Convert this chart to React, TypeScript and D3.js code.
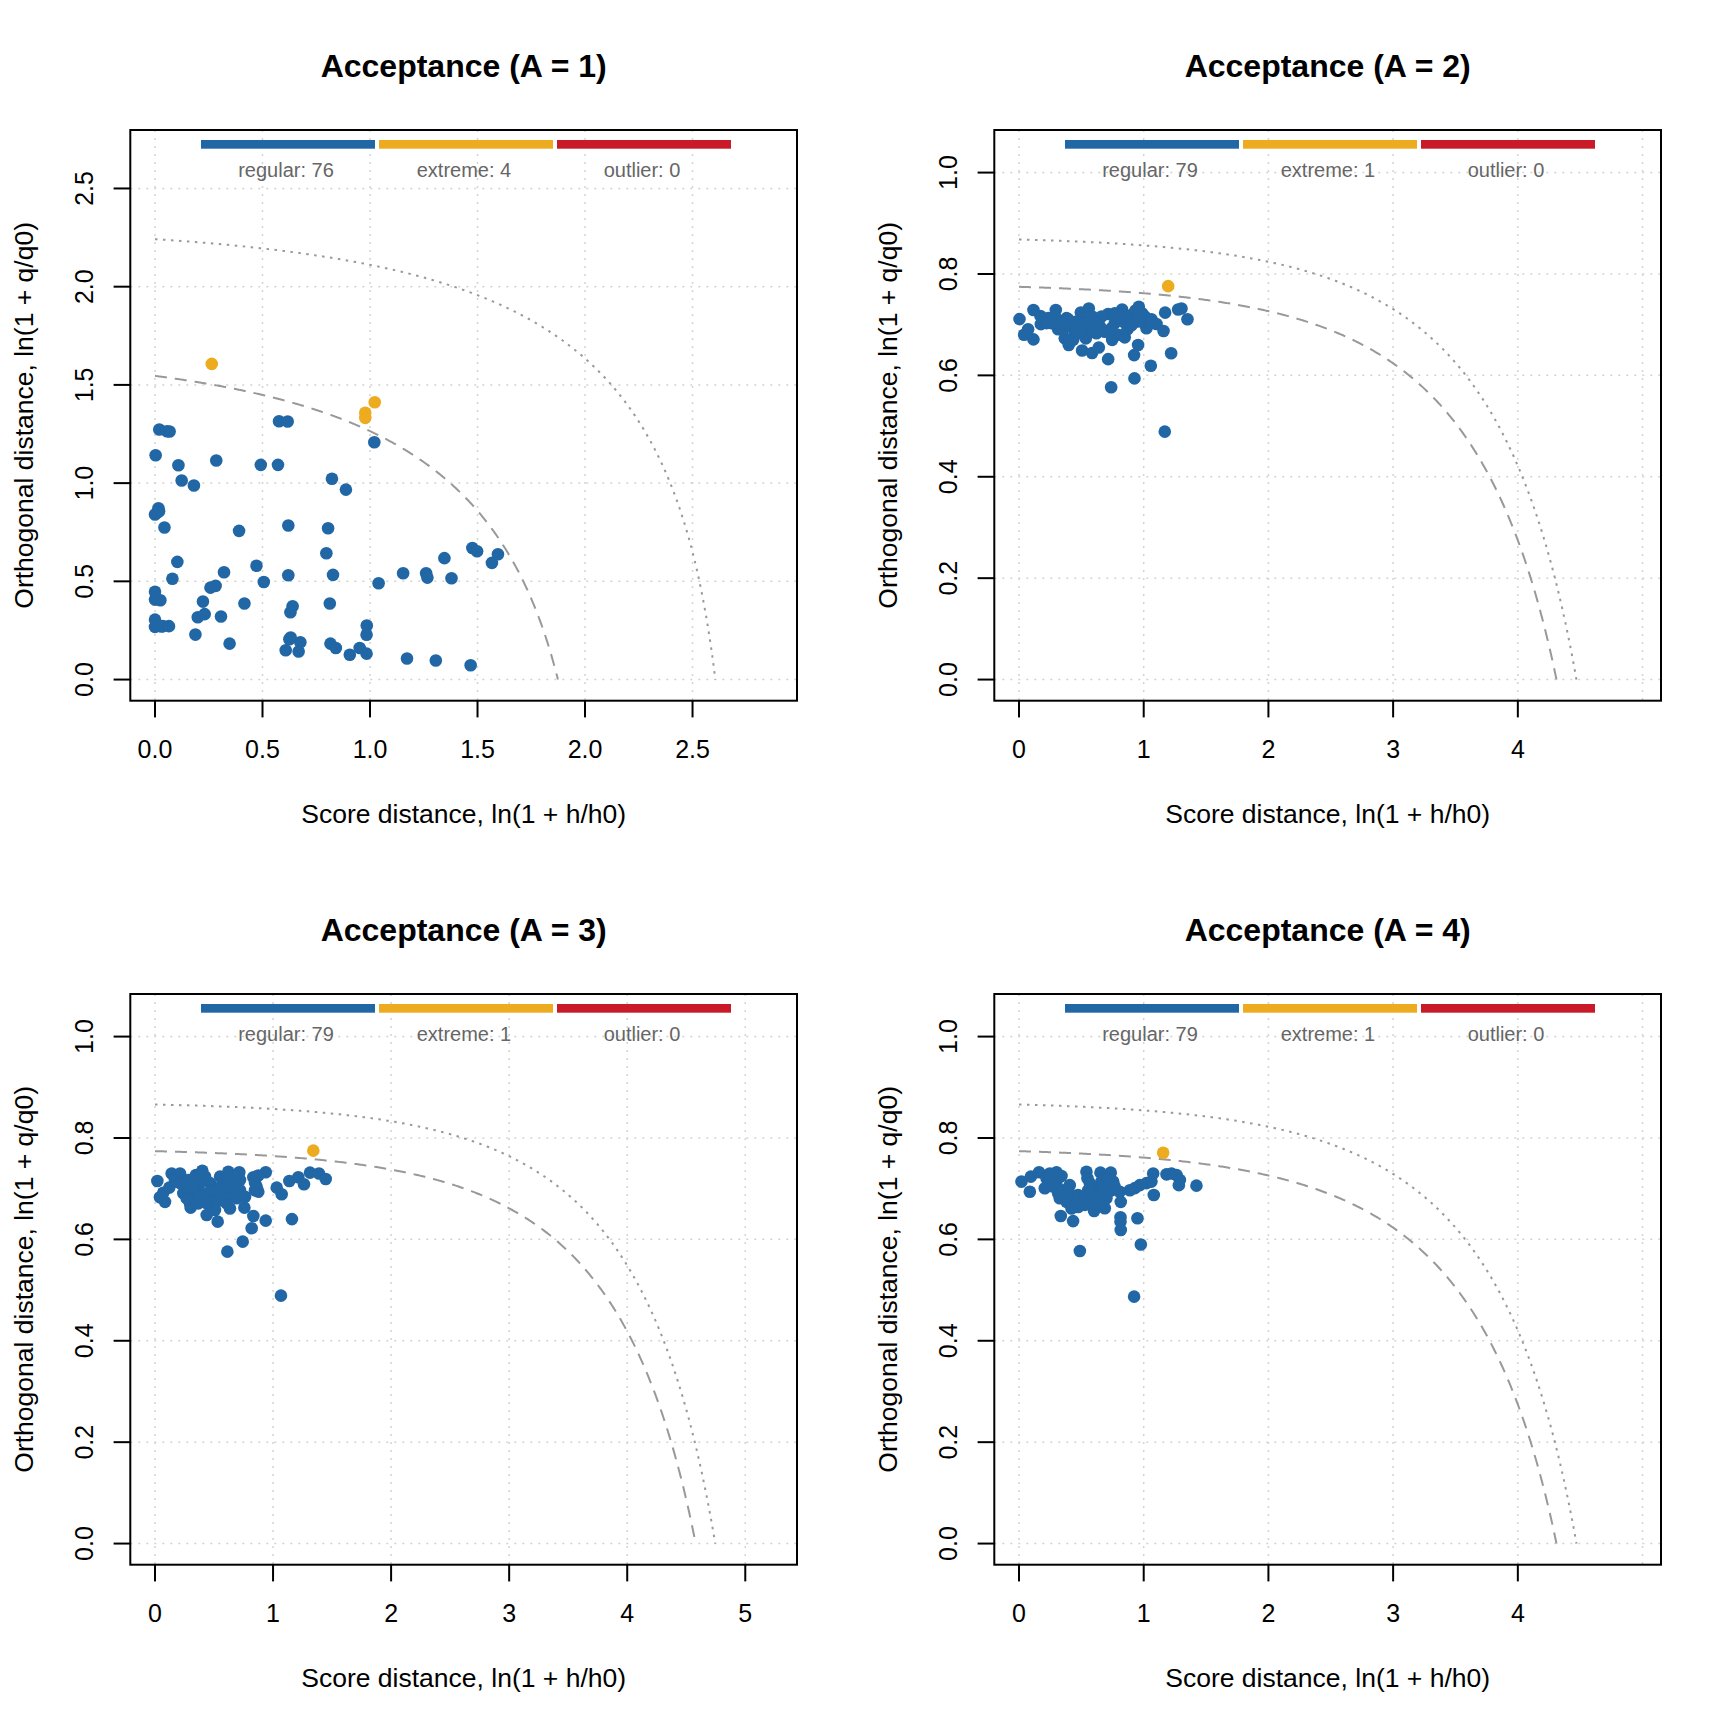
import React, { useEffect } from 'react';
import * as d3 from 'd3';

// ---------- data ----------
const titles = ['Acceptance (A = 1)', 'Acceptance (A = 2)', 'Acceptance (A = 3)', 'Acceptance (A = 4)'];
const xAxisLabel = 'Score distance, ln(1 + h/h0)';
const yAxisLabel = 'Orthogonal distance, ln(1 + q/q0)';
const legendNames = ['regular', 'extreme', 'outlier'];
const regularCounts = [76, 79, 79, 79];
const extremeCounts = [4, 1, 1, 1];
const outlierCounts = [0, 0, 0, 0];

const xMax = [2.871, 4.95, 5.229, 4.95];
const yMax = [2.69, 1.0423, 1.0423, 1.0423];
const xTicks = [
  [0, 0.5, 1, 1.5, 2, 2.5],
  [0, 1, 2, 3, 4],
  [0, 1, 2, 3, 4, 5],
  [0, 1, 2, 3, 4],
];
const xGrid = [
  [0, 0.5, 1, 1.5, 2, 2.5],
  [0, 1, 2, 3, 4, 5],
  [0, 1, 2, 3, 4, 5],
  [0, 1, 2, 3, 4, 5],
];
const yTicks = [
  [0, 0.5, 1, 1.5, 2, 2.5],
  [0, 0.2, 0.4, 0.6, 0.8, 1.0],
  [0, 0.2, 0.4, 0.6, 0.8, 1.0],
  [0, 0.2, 0.4, 0.6, 0.8, 1.0],
];
const tickDecimals = [[1, 1], [0, 1], [0, 1], [0, 1]];

// critical boundaries: intercepts on the x and y axes
const extremeX0 = [1.874, 4.31, 4.58, 4.31];
const extremeY0 = [1.546, 0.7747, 0.774, 0.774];
const outlierX0 = [2.606, 4.47, 4.746, 4.47];
const outlierY0 = [2.242, 0.868, 0.866, 0.866];

type P = [number, number];

const regular1: P[] = [
  [0.020, 1.273], [0.056, 1.264], [0.068, 1.263], [0.577, 1.315], [0.617, 1.314], [1.020, 1.208],
  [0.003, 1.142], [0.109, 1.091], [0.124, 1.013], [0.181, 0.988], [0.285, 1.115], [0.492, 1.093],
  [0.572, 1.093], [0.823, 1.022], [0.888, 0.967], [0.000, 0.840], [0.016, 0.872], [0.019, 0.857],
  [0.010, 0.850], [0.044, 0.774], [0.391, 0.757], [0.620, 0.784], [0.805, 0.770], [0.797, 0.643],
  [0.828, 0.533], [0.620, 0.531], [0.472, 0.579], [0.506, 0.497], [0.321, 0.546], [0.104, 0.599],
  [0.081, 0.513], [0.258, 0.468], [0.282, 0.477], [1.040, 0.490], [1.154, 0.541], [1.261, 0.541],
  [1.267, 0.519], [1.346, 0.618], [1.379, 0.516], [1.476, 0.670], [1.498, 0.653], [1.567, 0.594],
  [1.595, 0.638], [0.000, 0.447], [0.000, 0.407], [0.025, 0.404], [0.223, 0.397], [0.416, 0.387],
  [0.813, 0.387], [0.640, 0.373], [0.630, 0.343], [0.000, 0.305], [0.000, 0.268], [0.037, 0.272],
  [0.065, 0.272], [0.030, 0.270], [0.199, 0.317], [0.231, 0.333], [0.307, 0.321], [0.188, 0.229],
  [0.347, 0.183], [0.631, 0.214], [0.676, 0.190], [0.608, 0.149], [0.668, 0.143], [0.816, 0.183],
  [0.841, 0.161], [0.906, 0.126], [0.952, 0.161], [0.984, 0.132], [0.985, 0.275], [0.984, 0.228],
  [1.172, 0.107], [1.306, 0.097], [1.468, 0.073], [0.625, 0.205],
];
const extreme1: P[] = [[0.264, 1.607], [1.022, 1.412], [0.978, 1.358], [0.978, 1.332]];

const regular2: P[] = [
  [0.004, 0.711], [0.116, 0.729], [0.172, 0.717], [0.175, 0.701], [0.073, 0.691], [0.041, 0.680],
  [0.116, 0.671], [0.234, 0.713], [0.295, 0.729], [0.314, 0.709], [0.381, 0.713], [0.314, 0.691],
  [0.421, 0.699], [0.367, 0.673], [0.399, 0.660], [0.447, 0.683], [0.496, 0.724], [0.560, 0.732],
  [0.587, 0.716], [0.501, 0.703], [0.536, 0.673], [0.568, 0.686], [0.506, 0.649], [0.586, 0.644],
  [0.640, 0.655], [0.621, 0.683], [0.715, 0.721], [0.688, 0.686], [0.747, 0.670], [0.768, 0.703],
  [0.795, 0.680], [0.715, 0.632], [0.739, 0.5765], [0.827, 0.730], [0.848, 0.675], [0.870, 0.691],
  [0.902, 0.719], [0.934, 0.728], [0.961, 0.7355], [0.987, 0.7225], [0.942, 0.706], [1.009, 0.716],
  [1.062, 0.7107], [1.022, 0.693], [1.103, 0.7014], [1.159, 0.6876], [1.172, 0.7237], [0.955, 0.660],
  [0.923, 0.640], [0.926, 0.594], [1.057, 0.619], [1.220, 0.6436], [1.169, 0.489], [1.276, 0.730],
  [1.303, 0.732], [1.351, 0.7107], [0.260, 0.703], [0.354, 0.690], [0.461, 0.706], [0.394, 0.711],
  [0.528, 0.693], [0.648, 0.697], [0.742, 0.693], [0.835, 0.706], [0.902, 0.699], [0.982, 0.706],
  [0.854, 0.716], [0.662, 0.716], [0.595, 0.699], [0.220, 0.703], [0.287, 0.716], [0.434, 0.670],
  [0.488, 0.683], [0.768, 0.7225], [1.062, 0.703], [0.810, 0.716], [0.621, 0.703], [0.548, 0.706],
  [0.341, 0.703],
];
const extreme2: P[] = [[1.196, 0.776]];

const regular3: P[] = [
  [0.020, 0.715], [0.042, 0.683], [0.085, 0.674], [0.121, 0.702], [0.141, 0.730], [0.212, 0.730],
  [0.184, 0.714], [0.254, 0.697], [0.282, 0.717], [0.347, 0.727], [0.401, 0.7355], [0.325, 0.684],
  [0.302, 0.6626], [0.367, 0.671], [0.438, 0.648], [0.531, 0.635], [0.508, 0.658], [0.466, 0.711],
  [0.409, 0.691], [0.480, 0.684], [0.551, 0.7237], [0.621, 0.7335], [0.714, 0.7323], [0.593, 0.711],
  [0.551, 0.691], [0.607, 0.671], [0.663, 0.697], [0.692, 0.681], [0.720, 0.717], [0.757, 0.6626],
  [0.833, 0.646], [0.819, 0.622], [0.743, 0.5955], [0.613, 0.5758], [0.833, 0.7225], [0.861, 0.704],
  [0.875, 0.694], [0.847, 0.712], [0.938, 0.7323], [0.938, 0.637], [1.031, 0.702], [1.073, 0.689],
  [1.067, 0.489], [1.138, 0.715], [1.160, 0.640], [1.214, 0.7225], [1.262, 0.7087], [1.313, 0.7316],
  [1.389, 0.730], [1.446, 0.719], [0.070, 0.692], [0.240, 0.711], [0.381, 0.711], [0.424, 0.724],
  [0.353, 0.697], [0.508, 0.674], [0.635, 0.7205], [0.635, 0.691], [0.720, 0.697], [0.875, 0.726],
  [0.296, 0.671], [0.438, 0.671], [0.480, 0.697], [0.565, 0.707], [0.678, 0.714], [0.706, 0.730],
  [0.169, 0.717], [0.240, 0.691], [0.325, 0.704], [0.523, 0.697], [0.607, 0.704], [0.551, 0.677],
  [0.395, 0.681], [0.381, 0.724], [0.212, 0.711], [0.635, 0.661], [0.268, 0.681], [0.763, 0.684],
  [0.847, 0.697],
];
const extreme3: P[] = [[1.341, 0.775]];

const regular4: P[] = [
  [0.020, 0.714], [0.087, 0.694], [0.095, 0.7237], [0.161, 0.7323], [0.207, 0.7008], [0.221, 0.7205],
  [0.261, 0.711], [0.301, 0.7323], [0.341, 0.725], [0.314, 0.691], [0.327, 0.681], [0.381, 0.674],
  [0.407, 0.707], [0.335, 0.646], [0.434, 0.636], [0.488, 0.577], [0.447, 0.668], [0.501, 0.671],
  [0.474, 0.6876], [0.541, 0.7335], [0.549, 0.7205], [0.594, 0.704], [0.602, 0.656], [0.621, 0.671],
  [0.608, 0.691], [0.653, 0.7316], [0.661, 0.714], [0.688, 0.6614], [0.701, 0.681], [0.736, 0.7316],
  [0.755, 0.714], [0.742, 0.697], [0.816, 0.674], [0.814, 0.6436], [0.814, 0.635], [0.816, 0.6186],
  [0.889, 0.697], [0.950, 0.6416], [0.977, 0.590], [0.923, 0.487], [0.969, 0.707], [1.022, 0.711],
  [1.062, 0.714], [1.076, 0.730], [1.081, 0.6876], [1.183, 0.7283], [1.223, 0.730], [1.263, 0.727],
  [1.290, 0.717], [1.282, 0.707], [1.423, 0.706], [0.274, 0.704], [0.354, 0.697], [0.394, 0.694],
  [0.421, 0.6876], [0.528, 0.684], [0.581, 0.6876], [0.634, 0.6876], [0.688, 0.717], [0.768, 0.704],
  [0.808, 0.694], [0.929, 0.701], [0.555, 0.697], [0.501, 0.681], [0.447, 0.677], [0.381, 0.684],
  [0.301, 0.714], [0.234, 0.711], [0.247, 0.730], [0.314, 0.724], [0.674, 0.704], [0.715, 0.720],
  [0.701, 0.6876], [0.568, 0.711], [0.594, 0.677], [0.528, 0.668], [0.474, 0.664], [0.421, 0.661],
  [0.640, 0.677],
];
const extreme4: P[] = [[1.156, 0.771]];

const regularPoints = [regular1, regular2, regular3, regular4];
const extremePoints = [extreme1, extreme2, extreme3, extreme4];

// ---------- style ----------
const COL_REG = '#2166a5';
const COL_EXT = '#edac20';
const COL_OUT = '#c81a28';
const FONT = '"Liberation Sans", Arial, Helvetica, sans-serif';

// panel geometry (px, relative to panel origin)
const PANEL = 864;
const BOX_L = 130.3;
const BOX_R = 797;
const BOX_T = 130;
const BOX_B = 700.7;

// critical boundary curve through the two axis intercepts
function boundary(x0: number, y0: number): P[] {
  const a = Math.exp(y0) - 1;
  const b = Math.exp(x0) - 1;
  const pts: P[] = [];
  const n = 400;
  for (let k = 0; k <= n; k++) {
    const x = (x0 * k) / n;
    const v = 1 + a - (a / b) * (Math.exp(x) - 1);
    pts.push([x, Math.max(0, Math.log(Math.max(v, 1)))]);
  }
  return pts;
}

function Panel({ i }: { i: number }) {
  const ox = (i % 2) * PANEL;
  const oy = Math.floor(i / 2) * PANEL;
  const xs = d3.scaleLinear().domain([-0.04 * xMax[i], 1.04 * xMax[i]]).range([BOX_L, BOX_R]);
  const ys = d3.scaleLinear().domain([-0.04 * yMax[i], 1.04 * yMax[i]]).range([BOX_B, BOX_T]);
  const line = d3.line<P>().x((d) => xs(d[0])).y((d) => ys(d[1]));
  const fx = d3.format(`.${tickDecimals[i][0]}f`);
  const fy = d3.format(`.${tickDecimals[i][1]}f`);
  const ext = boundary(extremeX0[i], extremeY0[i]);
  const out = boundary(outlierX0[i], outlierY0[i]);
  const counts = [regularCounts[i], extremeCounts[i], outlierCounts[i]];
  const legendCols = [COL_REG, COL_EXT, COL_OUT];
  const legStart = BOX_L + 70.7;
  const segW = 174;
  const gap = 4;
  const cx = (BOX_L + BOX_R) / 2;
  const cy = (BOX_T + BOX_B) / 2;
  const clipId = `clip${i}`;
  return (
    <g transform={`translate(${ox},${oy})`} fontFamily={FONT}>
      <defs>
        <clipPath id={clipId}>
          <rect x={BOX_L} y={BOX_T} width={BOX_R - BOX_L} height={BOX_B - BOX_T} />
        </clipPath>
      </defs>
      <g clipPath={`url(#${clipId})`}>
        {xGrid[i].map((t) => (
          <line key={'gx' + t} x1={xs(t)} x2={xs(t)} y1={BOX_T} y2={BOX_B} stroke="#d3d3d3" strokeWidth={1.5} strokeDasharray="2,6" />
        ))}
        {yTicks[i].map((t) => (
          <line key={'gy' + t} x1={BOX_L} x2={BOX_R} y1={ys(t)} y2={ys(t)} stroke="#d3d3d3" strokeWidth={1.5} strokeDasharray="2,6" />
        ))}
        <path d={line(out) || ''} fill="none" stroke="#999999" strokeWidth={2} strokeDasharray="2.5,5.5" />
        <path d={line(ext) || ''} fill="none" stroke="#999999" strokeWidth={2} strokeDasharray="12,8" />
        {regularPoints[i].map((p, k) => (
          <circle key={'r' + k} cx={xs(p[0])} cy={ys(p[1])} r={6.3} fill={COL_REG} />
        ))}
        {extremePoints[i].map((p, k) => (
          <circle key={'e' + k} cx={xs(p[0])} cy={ys(p[1])} r={6.3} fill={COL_EXT} />
        ))}
      </g>
      {legendNames.map((name, k) => {
        const x0 = legStart + k * (segW + gap);
        return (
          <g key={name}>
            <rect x={x0} y={140} width={segW} height={8.7} fill={legendCols[k]} />
            <text x={x0 + segW / 2 - 2} y={177} textAnchor="middle" fontSize={20} fill="#666666">
              {`${name}: ${counts[k]}`}
            </text>
          </g>
        );
      })}
      <rect x={BOX_L} y={BOX_T} width={BOX_R - BOX_L} height={BOX_B - BOX_T} fill="none" stroke="#000" strokeWidth={2} />
      {xTicks[i].map((t) => (
        <g key={'xt' + t}>
          <line x1={xs(t)} x2={xs(t)} y1={BOX_B} y2={BOX_B + 16.7} stroke="#000" strokeWidth={2} />
          <text x={xs(t)} y={BOX_B + 57.6} textAnchor="middle" fontSize={25} fill="#000">{fx(t)}</text>
        </g>
      ))}
      {yTicks[i].map((t) => (
        <g key={'yt' + t}>
          <line x1={BOX_L} x2={BOX_L - 16.7} y1={ys(t)} y2={ys(t)} stroke="#000" strokeWidth={2} />
          <text transform={`translate(${BOX_L - 37},${ys(t)}) rotate(-90)`} textAnchor="middle" fontSize={25} fill="#000">{fy(t)}</text>
        </g>
      ))}
      <text x={cx} y={BOX_B + 122} textAnchor="middle" fontSize={26.5} fill="#000">{xAxisLabel}</text>
      <text transform={`translate(${BOX_L - 97},${cy}) rotate(-90)`} textAnchor="middle" fontSize={26.5} fill="#000">{yAxisLabel}</text>
      <text x={cx} y={76.7} textAnchor="middle" fontSize={32} fontWeight="bold" fill="#000">{titles[i]}</text>
    </g>
  );
}

export default function App() {
  useEffect(() => {
    document.body.style.margin = '0';
  }, []);
  return (
    <svg width={1728} height={1728} viewBox="0 0 1728 1728" style={{ position: 'absolute', left: 0, top: 0, display: 'block', background: '#fff' }}>
      <rect x={0} y={0} width={1728} height={1728} fill="#fff" />
      {[0, 1, 2, 3].map((i) => (
        <Panel key={i} i={i} />
      ))}
    </svg>
  );
}
